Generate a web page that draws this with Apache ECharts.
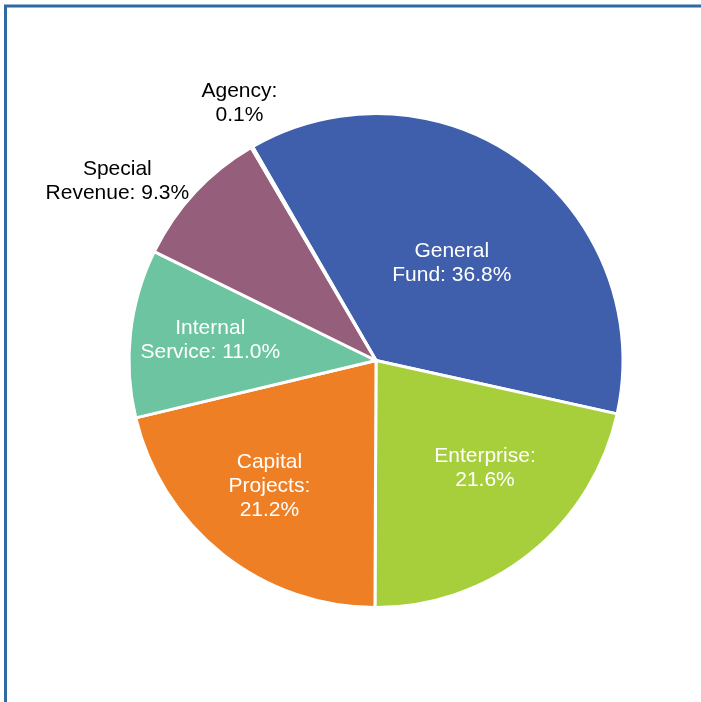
<!DOCTYPE html>
<html>
<head>
<meta charset="utf-8">
<script src="https://cdn.jsdelivr.net/npm/echarts@6/dist/echarts.min.js"></script>
<style>
html, body { margin: 0; padding: 0; background: #fff; }
#chart { width: 701px; height: 702px; }
</style>
</head>
<body>
<div id="chart"></div>
<script>
// Data
var categories = ['General Fund', 'Enterprise', 'Capital Projects', 'Internal Service', 'Special Revenue', 'Agency'];
var labelNames = ['General\nFund', 'Enterprise', 'Capital\nProjects', 'Internal\nService', 'Special\nRevenue', 'Agency'];
var valueBreaks = [' ', '\n', '\n', ' ', ' ', '\n'];
var values = [36.8, 21.6, 21.2, 11.0, 9.3, 0.1];

// Styles
var colors = ['#3F5FAC', '#A7CE3B', '#EE7F24', '#6CC4A1', '#955E7A', '#4BACC6'];
var labelColors = ['#fff', '#fff', '#fff', '#fff', '#000', '#000'];
var labelOffsets = [[1, 5], [30, 9], [-28, 27], [-40, -6], [-166, -93], [-73, -148]];

var data = categories.map(function (c, i) {
  return {
    name: c,
    value: values[i],
    itemStyle: { color: colors[i] },
    label: {
      color: labelColors[i],
      offset: labelOffsets[i],
      formatter: labelNames[i] + ':' + valueBreaks[i] + values[i].toFixed(1) + '%'
    }
  };
});

var chart = echarts.init(document.getElementById('chart'), null, { renderer: 'canvas' });
chart.setOption({
  backgroundColor: '#fff',
  animation: false,
  graphic: [{
    type: 'rect',
    silent: true,
    z: -10,
    shape: { x: 5.5, y: 6, width: 800, height: 800 },
    style: { fill: 'none', stroke: '#2E6BA3', lineWidth: 3 }
  }],
  series: [{
    type: 'pie',
    center: [376, 360.5],
    radius: [0, 247],
    startAngle: 120,
    clockwise: true,
    avoidLabelOverlap: false,
    itemStyle: { borderColor: '#fff', borderWidth: 3 },
    label: {
      show: true,
      position: 'inside',
      fontFamily: 'Liberation Sans, Arial, sans-serif',
      fontSize: 21,
      lineHeight: 24,
      align: 'center'
    },
    labelLine: { show: false },
    emphasis: { disabled: true },
    data: data
  }]
});
</script>
</body>
</html>
